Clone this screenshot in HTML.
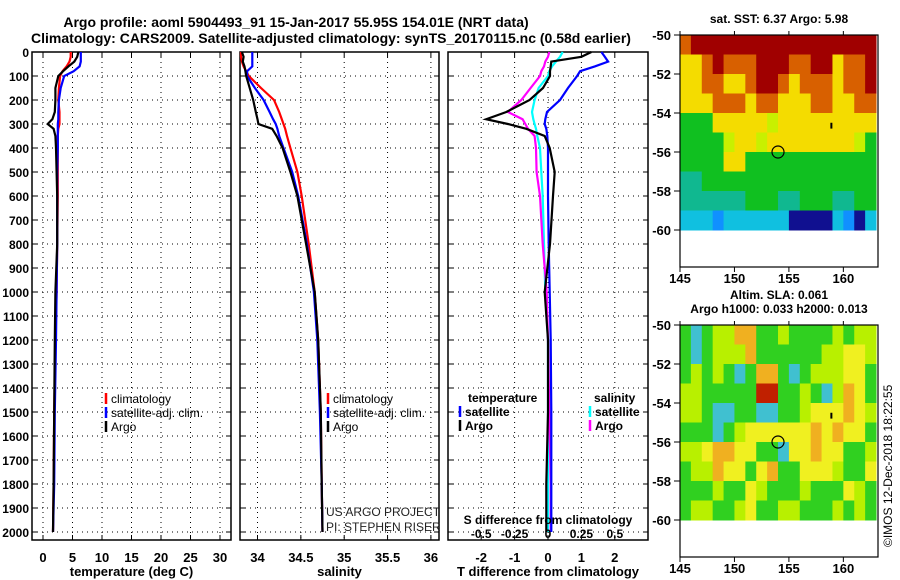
<!DOCTYPE html>
<html><head><meta charset="utf-8"><style>
body{margin:0;background:#fff;}
svg{display:block;font-family:"Liberation Sans",Arial,sans-serif;}
</style></head><body>
<svg id="c" width="900" height="580" xmlns="http://www.w3.org/2000/svg"></svg>
<script>
const depths=[0,20,40,60,80,100,150,200,250,280,300,320,350,400,500,600,800,1000,1200,1500,1800,2000];
const climT=[4.7,4.7,4.5,4.0,3.3,2.9,2.7,2.6,2.8,2.8,2.8,2.6,2.5,2.5,2.5,2.5,2.4,2.3,2.1,1.9,1.8,1.7];
const satT=[6.4,6.4,6.4,6.2,5.2,3.6,3.0,2.7,2.6,2.6,2.5,2.5,2.5,2.5,2.4,2.4,2.4,2.3,2.2,2.0,1.9,1.7];
const argoT=[6.0,5.8,5.3,4.3,3.4,2.6,2.1,2.1,2.0,1.6,0.8,1.8,2.1,2.2,2.3,2.4,2.4,2.1,2.0,1.9,1.8,1.7];
const climS=[33.81,33.81,33.82,33.84,33.87,33.90,34.04,34.19,34.25,34.28,34.30,34.32,34.34,34.38,34.46,34.51,34.59,34.66,34.70,34.73,34.74,34.75];
const satS=[33.94,33.94,33.94,33.94,33.88,33.88,33.97,34.07,34.14,34.18,34.21,34.23,34.25,34.30,34.40,34.47,34.57,34.65,34.69,34.72,34.74,34.75];
const argoS=[33.82,33.84,33.83,33.85,33.86,33.87,33.91,33.95,33.98,34.00,34.01,34.17,34.22,34.29,34.38,34.46,34.56,34.66,34.70,34.73,34.74,34.75];
const dTsat=[1.6,1.7,1.8,1.4,0.96,0.87,0.6,0.36,-0.03,-0.08,-0.1,-0.05,-0.02,0.0,0.0,0.0,0.02,0.05,0.08,0.1,0.1,0.1];
const dTargo=[1.3,1.0,0.1,0.08,0.06,0.06,-0.15,-0.55,-1.25,-1.85,-1.2,-0.65,-0.1,0.05,0.2,0.15,0.06,-0.1,0.0,0.0,-0.05,-0.05];
const dSsat=[0.11,0.09,0.06,0.03,0.01,0.0,-0.07,-0.1,-0.12,-0.11,-0.1,-0.09,-0.08,-0.06,-0.05,-0.04,-0.03,-0.02,0.0,0.0,0.0,0.0];
const dSargo=[0.01,0.0,-0.02,-0.03,-0.05,-0.06,-0.13,-0.2,-0.3,-0.19,-0.17,-0.15,-0.1,-0.09,-0.085,-0.06,-0.04,-0.01,0.0,0.01,0.02,0.02];
const depthTicks=[0,100,200,300,400,500,600,700,800,900,1000,1100,1200,1300,1400,1500,1600,1700,1800,1900,2000];
const tTicks=[0,5,10,15,20,25,30];
const sTicks=[34,34.5,35,35.5,36];
const sTickLabels=["34","34.5","35","35.5","36"];
const dtTicks=[-2,-1,0,1,2];
const dsTicks=[-0.5,-0.25,0,0.25,0.5];
const dsTickLabels=["-0.5","-0.25","0","0.25","0.5"];
const mapLon=[145,150,155,160];
const mapLat=[-50,-52,-54,-56,-58,-60];
const sstGrid=["ORRRRRRRRRRRRRRRRR","YYOROOORRROORRYOOR","YYOOYYORROYOOOYOOR","YYYOOOYOOYYYOOYYOO","GGGYYYYYLYYYYYYYYY","GGGGLYYLYYYYYYYYLG","GGGGYYGGGGGGGGGGGG","TTGGGGGGGGGGGGGGGG","TTTTTTGGGTTGGGTTGG","CCCBCCCCCCNNNNCBNC"];
const slaGrid=["GBGLLOOGGLGGGGLGLL","GBGLLLOGGGGGGLLYYL","GLGLGBGOOGBGLLLYYG","LLGGGGGRRGGLGBLOYG","LLGBBGGBBGGLYYYOYL","GGGBGLYYYYYYOYOYYG","LLYOOYYGGBYYOYYGGL","GLLOYYGYOGGYYYLGGY","GGGLGGYLGGGLGGGYLG","GLLGGLYGGLLGGGLGLG"];
const argoLon=154.0, argoLat=-56.0;

const NS="http://www.w3.org/2000/svg";
const svg=document.getElementById('c');
function mk(tag,attrs,parent){const e=document.createElementNS(NS,tag);for(const k in attrs)e.setAttribute(k,attrs[k]);(parent||svg).appendChild(e);return e;}
function txt(x,y,s,size,weight,anchor,parent,fill){const e=mk('text',{x:x,y:y,'font-size':size,'font-weight':weight,'text-anchor':anchor,fill:fill||'#000'},parent);e.textContent=s;return e;}

const Y=d=>52+d*0.24;
const xT=t=>43+t*5.9;
const xS=s=>257.5+(s-34)*86.7;
const xD=t=>548+t*33.4;
const xDS=s=>548+s*133.6;

// titles
let t1=txt(296,27,"Argo profile: aoml 5904493_91 15-Jan-2017 55.95S 154.01E (NRT data)",14,'bold','middle');

let t2=txt(331,43,"Climatology: CARS2009. Satellite-adjusted climatology: synTS_20170115.nc (0.58d earlier)",14,'bold','middle');


function panel(name,x0,x1,xticks,xf,xlabels,xtitle){
  const g=mk('g',{});
  
  
  depthTicks.forEach(d=>{mk('line',{x1:x0,x2:x1,y1:Y(d),y2:Y(d),stroke:'#000','stroke-dasharray':'1,4','stroke-width':1},g);
    mk('line',{x1:x0,x2:x0+5,y1:Y(d),y2:Y(d),stroke:'#000'},g);mk('line',{x1:x1-5,x2:x1,y1:Y(d),y2:Y(d),stroke:'#000'},g);});
  xticks.forEach((v,i)=>{const x=xf(v);mk('line',{x1:x,x2:x,y1:52,y2:540,stroke:'#000','stroke-dasharray':'1,4'},g);
    mk('line',{x1:x,x2:x,y1:52,y2:57,stroke:'#000'},g);mk('line',{x1:x,x2:x,y1:535,y2:540,stroke:'#000'},g);
    const l=txt(x,562,xlabels[i],13,'bold','middle',g);});
  mk('rect',{x:x0,y:52,width:x1-x0,height:488,fill:'none',stroke:'#000','stroke-width':1.5},g);
  const tt=txt((x0+x1)/2,576,xtitle,13,'bold','middle',g);
  
  return g;
}
function line(g,xs,xf,color,name){
  const pts=depths.map((d,i)=>xf(xs[i]).toFixed(1)+','+Y(d).toFixed(1)).join(' ');
  const p=mk('polyline',{points:pts,fill:'none',stroke:color,'stroke-width':2.2},g);
  
}
function legend(g,x,y,color,label,bold){
  mk('line',{x1:x,x2:x,y1:y-10,y2:y+1,stroke:color,'stroke-width':2.5},g);
  const l=txt(x+5,y,label,12,bold?'bold':'normal','start',g);
  
}

// y labels
depthTicks.forEach(d=>{const l=txt(29,Y(d)+5,String(d),12,'bold','end');});

const p1=panel('temperature-panel',32,231,tTicks,xT,tTicks.map(String),'temperature (deg C)');
line(p1,climT,xT,'#f00','climatology-temp-line');
line(p1,satT,xT,'#00f','satellite-temp-line');
line(p1,argoT,xT,'#000','argo-temp-line');
legend(p1,106,403,'#f00','climatology');legend(p1,106,417,'#00f','satellite-adj. clim.');legend(p1,106,431,'#000','Argo');

const p2=panel('salinity-panel',240,439,sTicks,xS,sTickLabels,'salinity');
line(p2,climS,xS,'#f00','climatology-salinity-line');
line(p2,satS,xS,'#00f','satellite-salinity-line');
line(p2,argoS,xS,'#000','argo-salinity-line');
legend(p2,328,403,'#f00','climatology');legend(p2,328,417,'#00f','satellite-adj. clim.');legend(p2,328,431,'#000','Argo');
txt(326,516,'US ARGO PROJECT',12,'normal','start',p2,'#222');
txt(326,531,'PI: STEPHEN RISER',12,'normal','start',p2,'#222');

const p3=panel('difference-panel',448,648,dtTicks,xD,dtTicks.map(String),'T difference from climatology');
line(p3,dSsat,xDS,'#0ff','satellite-salinity-diff-line');
line(p3,dSargo,xDS,'#f0f','argo-salinity-diff-line');
line(p3,dTsat,xD,'#00f','satellite-temp-diff-line');
line(p3,dTargo,xD,'#000','argo-temp-diff-line');
txt(468,402,'temperature',12,'bold','start',p3);
legend(p3,460,416,'#00f','satellite',true);legend(p3,460,430,'#000','Argo',true);
txt(594,402,'salinity',12,'bold','start',p3);
legend(p3,590,416,'#0ff','satellite',true);legend(p3,590,430,'#f0f','Argo',true);
txt(548,524,'S difference from climatology',12,'bold','middle',p3);
dsTicks.forEach((v,i)=>{const l=txt(xDS(v),538,dsTickLabels[i],12,'bold','middle',p3);});

// maps
const palSST={R:'#a00000',O:'#d86000',Y:'#f4dc00',L:'#c8f000',G:'#10c020',T:'#10b890',C:'#10c0e0',B:'#1090ff',N:'#101090'};
const palSLA={G:'#30d020',L:'#b8f000',Y:'#f0f020',O:'#f0b020',R:'#c02000',B:'#40c0d0'};
function map(name,top,grid,pal,title1,title2){
  const g=mk('g',{});
  
  const lx=lon=>680+(lon-145)*10.89;
  const ly=lat=>top+(-50-lat)*19.5;
  grid.forEach((row,r)=>{for(let c=0;c<row.length;c++){
    const x=lx(145+c), w=Math.min(lx(146+c),878)-x;
    const cell=mk('rect',{x:x,y:ly(-50-r),width:w+0.5,height:19.5+0.5,fill:pal[row[c]]},g);
    }});
  mk('rect',{x:680,y:top,width:198,height:232,fill:'none',stroke:'#000','stroke-width':1.2},g);
  mapLat.forEach(v=>{mk('line',{x1:674,x2:680,y1:ly(v),y2:ly(v),stroke:'#000'},g);
    const l=txt(671,ly(v)+5,String(v),13,'bold','end',g);});
  mapLon.forEach(v=>{mk('line',{x1:lx(v),x2:lx(v),y1:top+232,y2:top+237,stroke:'#000'},g);mk('line',{x1:lx(v),x2:lx(v),y1:top-4,y2:top,stroke:'#000'},g);
    const l=txt(lx(v),top+248,String(v),13,'bold','middle',g);});
  const c=mk('circle',{cx:lx(argoLon),cy:ly(argoLat),r:6,fill:'none',stroke:'#000','stroke-width':1.2},g);
  
  mk('line',{x1:lx(158.9),x2:lx(158.9),y1:ly(-54.5),y2:ly(-54.8),stroke:'#000','stroke-width':2},g);
  txt(779,top-12,title1,12,'bold','middle',g);
  if(title2) txt(779,top-26,title2,12,'bold','middle',g);
}
map('sst-map',35,sstGrid,palSST,'sat. SST: 6.37 Argo: 5.98');
map('sla-map',325,slaGrid,palSLA,'Argo h1000: 0.033 h2000: 0.013','Altim. SLA: 0.061');
const cr=txt(0,0,'©IMOS 12-Dec-2018 18:22:55',12,'normal','start');
cr.setAttribute('transform','translate(892,547) rotate(-90)');

</script>
</body></html>
